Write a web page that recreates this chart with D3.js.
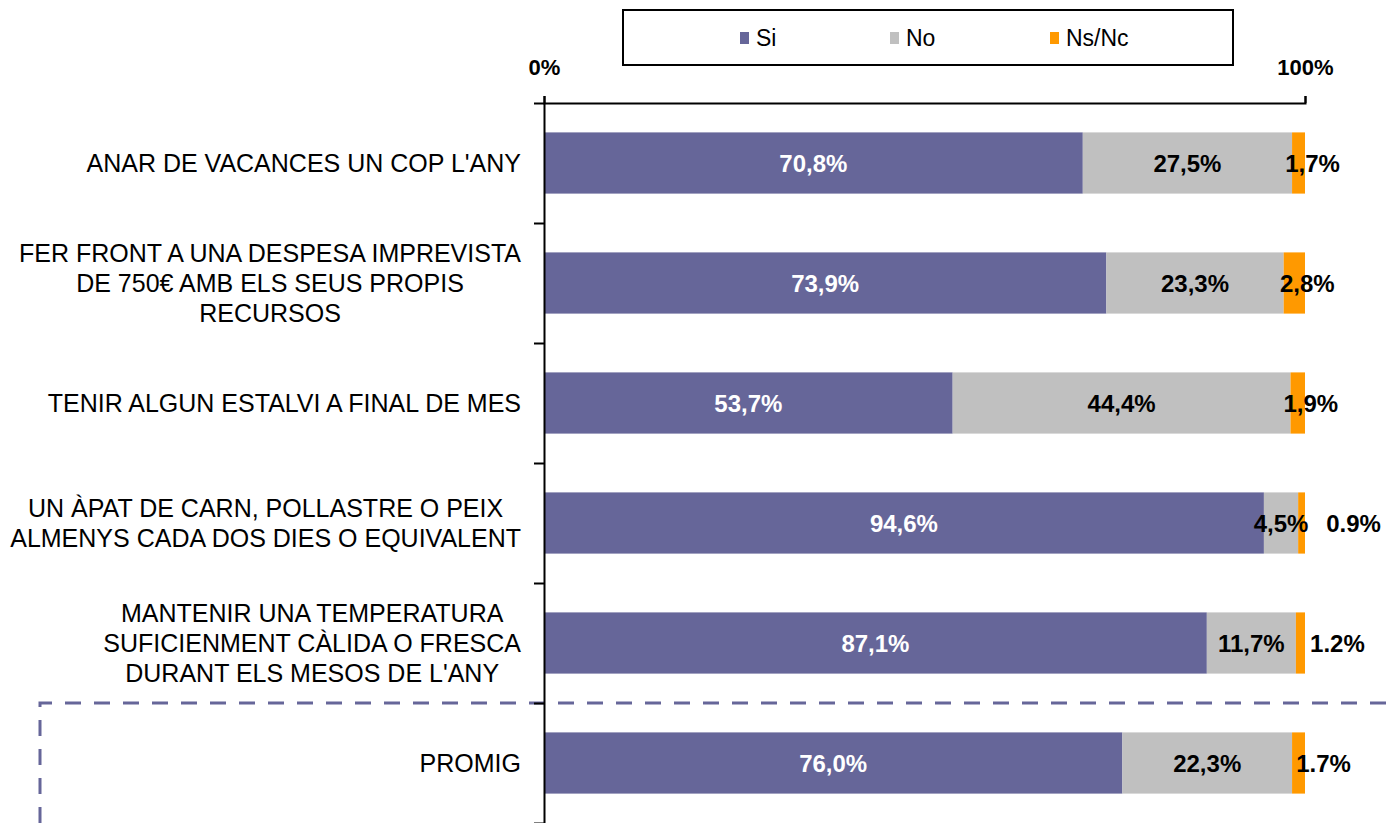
<!DOCTYPE html>
<html>
<head>
<meta charset="utf-8">
<script src="https://cdn.jsdelivr.net/npm/d3@7"></script>
<style>
  body { margin: 0; background: #fff; }
  text { font-family: "Liberation Sans", Arial, sans-serif; }
</style>
</head>
<body>
<div id="chart"></div>
<script>

// data
var categories = [
    ["ANAR DE VACANCES UN COP L'ANY"],
    ["FER FRONT A UNA DESPESA IMPREVISTA", "DE 750€ AMB ELS SEUS PROPIS", "RECURSOS"],
    ["TENIR ALGUN ESTALVI A FINAL DE MES"],
    ["UN ÀPAT DE CARN, POLLASTRE O PEIX", "ALMENYS CADA DOS DIES O EQUIVALENT"],
    ["MANTENIR UNA TEMPERATURA", "SUFICIENMENT CÀLIDA O FRESCA", "DURANT ELS MESOS DE L'ANY"],
    ["PROMIG"]
];
var seriesNames = ["Si", "No", "Ns/Nc"];
var siValues = [70.8, 73.9, 53.7, 94.6, 87.1, 76.0];
var noValues = [27.5, 23.3, 44.4, 4.5, 11.7, 22.3];
var nsncValues = [1.7, 2.8, 1.9, 0.9, 1.2, 1.7];
// the Ns/Nc labels are written differently in the original
var nsncLabels = ["1,7%", "2,8%", "1,9%", "0.9%", "1.2%", "1.7%"];
var axisTicks = [0, 100];

var colors = {"Si": "#666699", "No": "#C0C0C0", "Ns/Nc": "#FF9900"};
// manual nudges of the small orange labels, in px
var nsncShift = [14, 13, 13, 52, 37, 25];

var svgWidth = 1388, svgHeight = 823;
var margin = {top: 103, bottom: 0, left: 544, right: 83};

var svg = d3.select("#chart").append("svg")
    .attr("width", svgWidth)
    .attr("height", svgHeight);

var rows = categories.map(function(c, i) {
    return {idx: i, "Si": siValues[i], "No": noValues[i], "Ns/Nc": nsncValues[i]};
});

var xScale = d3.scaleLinear()
    .domain([0, 100])
    .range([margin.left, svgWidth - margin.right]);

var yScale = d3.scaleBand()
    .domain(d3.range(categories.length))
    .range([margin.top, svgHeight - margin.bottom])
    .paddingInner(0.49)
    .paddingOuter(0.245);

// boundaries between categories, for the y axis ticks
var yEdges = d3.scaleLinear()
    .domain([0, categories.length])
    .range([margin.top, svgHeight - margin.bottom]);

var stacked = d3.stack().keys(seriesNames)(rows);

// bars
var layers = svg.selectAll("g.layer")
    .data(stacked)
    .enter().append("g")
    .attr("class", "layer")
    .attr("fill", d => colors[d.key]);

layers.selectAll("rect")
    .data(d => d)
    .enter().append("rect")
    .attr("x", d => xScale(d[0]))
    .attr("y", d => yScale(d.data.idx))
    .attr("width", d => xScale(d[1]) - xScale(d[0]))
    .attr("height", yScale.bandwidth());

// value labels
var fmt = v => v.toFixed(1).replace(".", ",") + "%";

stacked.forEach(function(layer) {
    svg.append("g").selectAll("text")
        .data(layer)
        .enter().append("text")
        .attr("x", function(d, i) {
            var cx = (xScale(d[0]) + xScale(d[1])) / 2;
            return layer.key == "Ns/Nc" ? cx + nsncShift[i] : cx;
        })
        .attr("y", d => yScale(d.data.idx) + yScale.bandwidth() / 2)
        .attr("dy", "0.36em")
        .attr("text-anchor", "middle")
        .attr("font-size", "24px")
        .attr("font-weight", "bold")
        .attr("fill", layer.key == "Si" ? "#fff" : "#000")
        .text(function(d, i) {
            if (layer.key == "Ns/Nc") { return nsncLabels[i]; }
            return fmt(d.data[layer.key]);
        });
});

// dashed frame round the average row
svg.append("path")
    .attr("d", "M40," + svgHeight + "V" + yEdges(5) + "H" + svgWidth)
    .attr("fill", "none")
    .attr("stroke", "#666699")
    .attr("stroke-width", 3)
    .attr("stroke-dasharray", "16,13");

// axes
var xAxis = d3.axisTop(xScale)
    .tickValues(axisTicks)
    .tickSize(7)
    .tickSizeOuter(7)
    .tickPadding(21)
    .tickFormat(d => d + "%");

var yAxis = d3.axisLeft(yEdges)
    .tickValues(d3.range(categories.length + 1))
    .tickSize(10)
    .tickSizeOuter(0)
    .tickFormat("");

var gx = svg.append("g")
    .attr("class", "xAxis")
    .attr("transform", "translate(0, " + margin.top + ")")
    .call(xAxis);
gx.selectAll("text")
    .attr("font-family", "Liberation Sans, Arial, sans-serif")
    .attr("font-size", "22px")
    .attr("font-weight", "bold")
    .attr("fill", "#000");

var gy = svg.append("g")
    .attr("class", "yAxis")
    .attr("transform", "translate(" + margin.left + ", 0)")
    .call(yAxis);

svg.selectAll(".xAxis path, .xAxis line, .yAxis path, .yAxis line")
    .attr("stroke", "#000")
    .attr("stroke-width", 2);

// category labels: lines centred, block right aligned
var labelRight = 521, lineH = 30;
categories.forEach(function(lines, i) {
    var cy = yScale(i) + yScale.bandwidth() / 2;
    var t = svg.append("text")
        .attr("font-size", "25px")
        .attr("fill", "#000")
        .attr("text-anchor", "middle");
    var spans = t.selectAll("tspan")
        .data(lines)
        .enter().append("tspan")
        .attr("y", (d, j) => cy + (j - (lines.length - 1) / 2) * lineH)
        .attr("dy", "0.36em")
        .text(d => d);
    var maxW = d3.max(spans.nodes(), n => n.getComputedTextLength());
    spans.attr("x", labelRight - maxW / 2);
});

// legend
svg.append("rect")
    .attr("x", 623).attr("y", 10)
    .attr("width", 610).attr("height", 55)
    .attr("fill", "#fff")
    .attr("stroke", "#000")
    .attr("stroke-width", 2);

var legendX = [740, 890, 1050];
var legend = svg.selectAll("g.legend")
    .data(seriesNames)
    .enter().append("g")
    .attr("class", "legend")
    .attr("transform", (d, i) => "translate(" + legendX[i] + ", 38)");

legend.append("rect")
    .attr("x", 0).attr("y", -6)
    .attr("width", 9).attr("height", 12)
    .attr("fill", d => colors[d]);

legend.append("text")
    .attr("x", 16)
    .attr("dy", "0.36em")
    .attr("font-size", "23px")
    .attr("fill", "#000")
    .text(d => d);

</script>
</body>
</html>
